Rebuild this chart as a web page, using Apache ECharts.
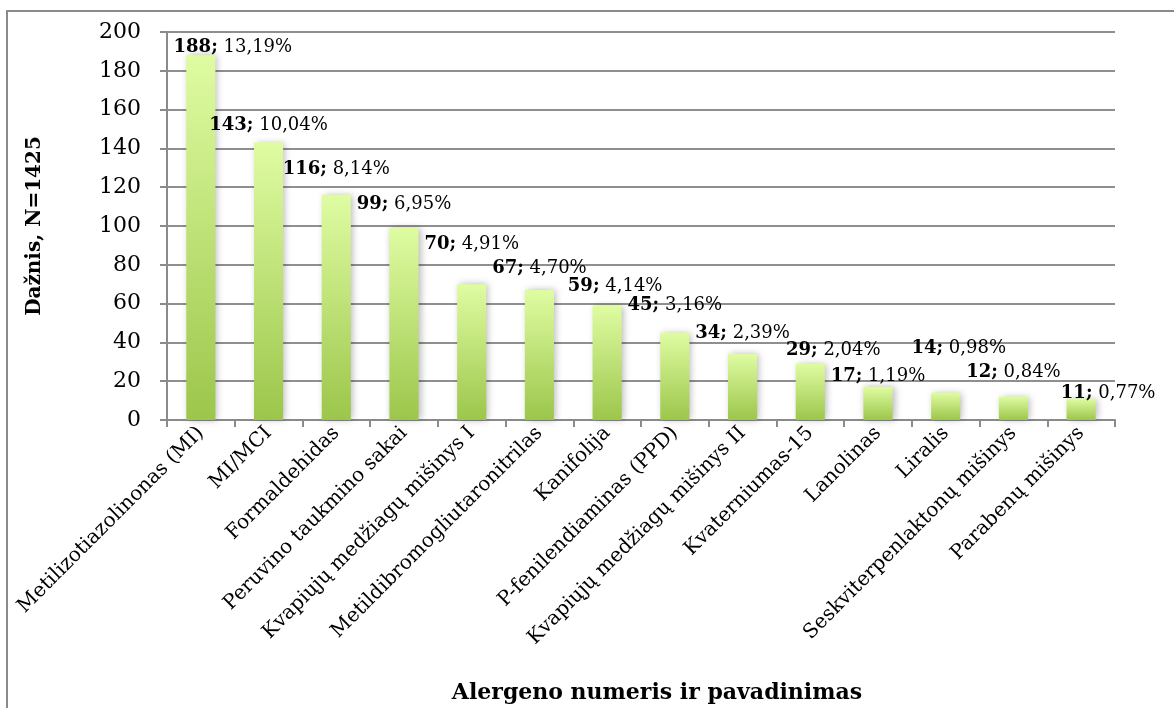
<!DOCTYPE html>
<html>
<head>
<meta charset="utf-8">
<script src="https://cdn.jsdelivr.net/npm/echarts@6/dist/echarts.min.js"></script>
<style>html,body{margin:0;padding:0;background:#fff}#c{width:1174px;height:708px}</style>
</head>
<body>
<div id="c"></div>
<script>
const categories = ["Metilizotiazolinonas (MI)", "MI/MCI", "Formaldehidas", "Peruvino taukmino sakai", "Kvapiųjų medžiagų mišinys I", "Metildibromogliutaronitrilas", "Kanifolija", "P-fenilendiaminas (PPD)", "Kvapiųjų medžiagų mišinys II", "Kvaterniumas-15", "Lanolinas", "Liralis", "Seskviterpenlaktonų mišinys", "Parabenų mišinys"];
const counts = [188, 143, 116, 99, 70, 67, 59, 45, 34, 29, 17, 14, 12, 11];
const percents = [13.19, 10.04, 8.14, 6.95, 4.91, 4.70, 4.14, 3.16, 2.39, 2.04, 1.19, 0.98, 0.84, 0.77];
const yTicks = [0, 20, 40, 60, 80, 100, 120, 140, 160, 180, 200];
const yTitle = "Dažnis, N=1425";
const xTitle = "Alergeno numeris ir pavadinimas";

// label nudges (style only): [dx, dy] relative to default top placement
const labelNudges = [[32,5],[0,-4],[0,-13],[0,-11],[0,-27],[0,-9],[8,-6],[0,-14],[0,-8],[23,0],[0,2],[13,-32],[0,-11],[27,8]];

const SERIF = "'DejaVu Serif', 'Liberation Serif', serif";
const chart = echarts.init(document.getElementById('c'), null, {renderer: 'canvas'});

const seriesData = counts.map((v, i) => ({
  value: v,
  label: { offset: labelNudges[i] }
}));

chart.setOption({
  animation: false,
  backgroundColor: '#fff',
  graphic: [
    { type: 'rect', shape: { x: 7, y: 11, width: 1300, height: 900 }, style: { fill: 'none', stroke: '#8a8a8a', lineWidth: 2 }, z: -1 },
    { type: 'text', x: 657, y: 693, style: { text: xTitle, font: "bold 22px 'DejaVu Serif', serif", fill: '#000', textAlign: 'center', textVerticalAlign: 'middle' } }
  ],
  grid: { left: 167, right: 59, top: 32, bottom: 288, containLabel: false },
  xAxis: {
    type: 'category',
    data: categories,
    axisLine: { show: true, lineStyle: { color: '#8a8a8a', width: 2 } },
    axisTick: { show: true, alignWithLabel: false, length: 7, lineStyle: { color: '#8a8a8a', width: 2 } },
    axisLabel: { interval: 0, rotate: 45, fontFamily: SERIF, fontSize: 20, color: '#000', margin: 10 },
    splitLine: { show: false }
  },
  yAxis: {
    type: 'value',
    min: yTicks[0],
    max: yTicks[yTicks.length - 1],
    interval: 20,
    name: yTitle,
    nameLocation: 'middle',
    nameRotate: 90,
    nameGap: 122,
    nameTextStyle: { fontFamily: SERIF, fontWeight: 'bold', fontSize: 20, color: '#000' },
    axisLine: { show: true, lineStyle: { color: '#8a8a8a', width: 2 } },
    axisTick: { show: true, length: 7, lineStyle: { color: '#8a8a8a', width: 2 } },
    axisLabel: { fontFamily: SERIF, fontSize: 22, color: '#000', margin: 26 },
    splitLine: { show: true, lineStyle: { color: '#8f8f8f', width: 2 } }
  },
  series: [{
    type: 'bar',
    data: seriesData,
    barWidth: '43%',
    itemStyle: {
      color: new echarts.graphic.LinearGradient(0, 0, 0, 1, [
        { offset: 0, color: '#dffca2' },
        { offset: 1, color: '#9cc64b' }
      ]),
      shadowColor: 'rgba(0,0,0,0.28)',
      shadowBlur: 7,
      shadowOffsetX: 2,
      shadowOffsetY: 0
    },
    label: {
      show: true,
      position: 'top',
      distance: 4,
      fontFamily: SERIF,
      fontSize: 18,
      color: '#000',
      formatter: p => '{b|' + counts[p.dataIndex] + ';} ' + percents[p.dataIndex].toFixed(2).replace('.', ',') + '%',
      rich: {
        b: { fontFamily: SERIF, fontWeight: 'bold', fontSize: 18, color: '#000' }
      }
    }
  }]
});
</script>
</body>
</html>
